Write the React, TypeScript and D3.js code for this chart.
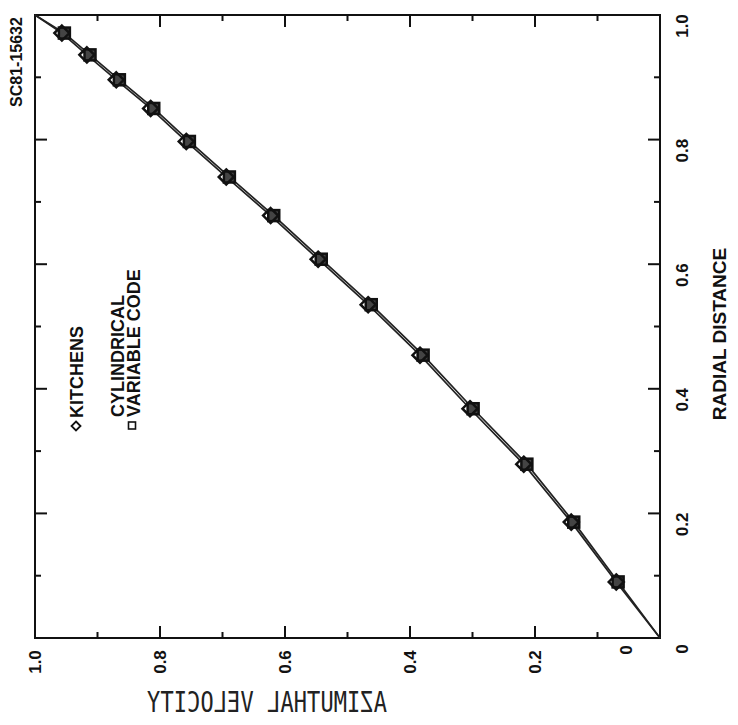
import React from 'react';
import * as d3 from 'd3';

// Radial distance of the computed stations (0..1)
const radialDistance = [0.971, 0.936, 0.896, 0.850, 0.797, 0.740, 0.678, 0.608, 0.535, 0.454, 0.368, 0.279, 0.186, 0.090];
// Azimuthal velocity – Kitchens solution
const kitchensVelocity = [0.957, 0.917, 0.870, 0.815, 0.758, 0.694, 0.623, 0.547, 0.467, 0.384, 0.304, 0.218, 0.142, 0.070];
// Azimuthal velocity – cylindrical variable code
const cvcVelocity = [0.953, 0.912, 0.865, 0.810, 0.753, 0.689, 0.618, 0.542, 0.462, 0.379, 0.299, 0.213, 0.138, 0.067];
// Curve end values (axis and wall)
const curveStart = { r: 0, v: 0 };
const curveEnd = { r: 1, v: 1 };

const majorTicks = [0, 0.2, 0.4, 0.6, 0.8, 1.0];
const minorTicks = [0.1, 0.3, 0.5, 0.7, 0.9];
const tickLabels = ['0', '0.2', '0.4', '0.6', '0.8', '1.0'];

const FONT = '"Liberation Sans", Arial, Helvetica, sans-serif';

export default function App() {
  const left = 35, right = 660, top = 15, bottom = 638;
  // Figure is rotated: velocity runs along the bottom (1 at left), radius along the right (0 at bottom)
  const x = d3.scaleLinear().domain([1, 0]).range([left, right]);
  const y = d3.scaleLinear().domain([0, 1]).range([bottom, top]);

  type P = { r: number; v: number };
  const kPts: P[] = radialDistance.map((r, i) => ({ r, v: kitchensVelocity[i] }));
  const cPts: P[] = radialDistance.map((r, i) => ({ r, v: cvcVelocity[i] }));
  const withEnds = (pts: P[]) => [curveStart, ...[...pts].reverse(), curveEnd];
  const line = d3.line<P>().x(d => x(d.v)).y(d => y(d.r));

  const diamond = (cx: number, cy: number, s: number) =>
    `M${cx},${cy - s}L${cx + s},${cy}L${cx},${cy + s}L${cx - s},${cy}Z`;

  const majorLen = 12, minorLen = 6;

  return (
    <svg width={738} height={725} style={{ position: 'absolute', left: 0, top: 0, background: '#fff' }}>
      <rect x={0} y={0} width={738} height={725} fill="#fff" />
      {/* frame */}
      <rect x={left} y={top} width={right - left} height={bottom - top} fill="none" stroke="#111" strokeWidth={2} />
      {majorTicks.map(t => (
        <g key={'rm' + t}>
          <line x1={right} x2={right - majorLen} y1={y(t)} y2={y(t)} stroke="#111" strokeWidth={2} />
          <line x1={left} x2={left + majorLen} y1={y(t)} y2={y(t)} stroke="#111" strokeWidth={2} />
          <line x1={x(t)} x2={x(t)} y1={bottom} y2={bottom - majorLen} stroke="#111" strokeWidth={2} />
          <line x1={x(t)} x2={x(t)} y1={top} y2={top + majorLen} stroke="#111" strokeWidth={2} />
        </g>
      ))}
      {minorTicks.map(t => (
        <g key={'rn' + t}>
          <line x1={right} x2={right - minorLen} y1={y(t)} y2={y(t)} stroke="#111" strokeWidth={2} />
          <line x1={left} x2={left + minorLen} y1={y(t)} y2={y(t)} stroke="#111" strokeWidth={2} />
          <line x1={x(t)} x2={x(t)} y1={bottom} y2={bottom - minorLen} stroke="#111" strokeWidth={2} />
          <line x1={x(t)} x2={x(t)} y1={top} y2={top + minorLen} stroke="#111" strokeWidth={2} />
        </g>
      ))}
      {/* right axis labels (radial distance) */}
      {majorTicks.map((t, i) => (
        <text key={'rl' + t} transform={`translate(${right + 28},${y(t) + 11}) rotate(-90)`} textAnchor="middle"
          fontFamily={FONT} fontWeight="bold" fontSize={17} fill="#111">{tickLabels[i]}</text>
      ))}
      {/* bottom axis labels (azimuthal velocity) */}
      {majorTicks.map((t, i) => (
        <text key={'bl' + t} transform={`translate(${(t === 0 ? x(t) - 34 : x(t)) + 6},${t === 0 ? 650 : 662}) rotate(-90)`} textAnchor="middle"
          fontFamily={FONT} fontWeight="bold" fontSize={17} fill="#111">{tickLabels[i]}</text>
      ))}
      <text transform={`translate(726,334) rotate(-90)`} textAnchor="middle" fontFamily={FONT} fontWeight="bold" fontSize={19} fill="#111">RADIAL DISTANCE</text>
      <text transform={`translate(267,712) scale(-1,1)`} textAnchor="middle" fontFamily='"DejaVu Sans Mono", monospace'
        fontSize={29} textLength={240} lengthAdjust="spacingAndGlyphs" fill="#222">AZIMUTHAL VELOCITY</text>
      <text transform={`translate(22,62) rotate(-90)`} textAnchor="middle" fontFamily={FONT} fontWeight="bold" fontSize={16} fill="#111">SC81-15632</text>

      {/* curves */}
      <path d={line(withEnds(kPts)) || ''} fill="none" stroke="#222" strokeWidth={1.7} />
      <path d={line(withEnds(cPts)) || ''} fill="none" stroke="#222" strokeWidth={1.7} />
      {/* markers */}
      {cPts.map((p, i) => (
        <rect key={'s' + i} x={x(p.v) - 5.5} y={y(p.r) - 5.5} width={11} height={11} fill="#444" stroke="#111" strokeWidth={2.5} />
      ))}
      {kPts.map((p, i) => (
        <path key={'d' + i} d={diamond(x(p.v), y(p.r), 7.5)} fill="none" stroke="#111" strokeWidth={2.5} />
      ))}

      {/* legend */}
      <path d={diamond(76, 426, 4.5)} fill="none" stroke="#111" strokeWidth={1.8} />
      <text transform={`translate(83,418) rotate(-90)`} fontFamily={FONT} fontWeight="bold" fontSize={18} fill="#111">KITCHENS</text>
      <text transform={`translate(124,417) rotate(-90)`} fontFamily={FONT} fontWeight="bold" fontSize={18} fill="#111">CYLINDRICAL</text>
      <text transform={`translate(140,417) rotate(-90)`} fontFamily={FONT} fontWeight="bold" fontSize={18} fill="#111">VARIABLE CODE</text>
      <rect x={128.5} y={422} width={7} height={7} fill="none" stroke="#111" strokeWidth={1.6} />
    </svg>
  );
}
